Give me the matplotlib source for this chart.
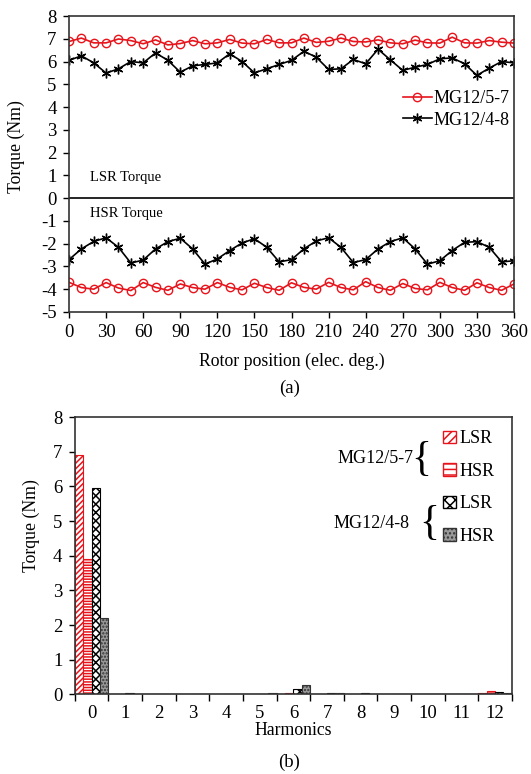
import numpy as np
import matplotlib
matplotlib.use('Agg')
import matplotlib.pyplot as plt
from matplotlib.patches import Patch

plt.rcParams.update({
    'font.family': ['Liberation Serif', 'DejaVu Serif'],
    'font.size': 12.5,
    'hatch.linewidth': 1.1,
    'axes.unicode_minus': False,
})

# (a) torque vs rotor position
angle = np.arange(0, 361, 10)
lsr_57 = [6.89, 7.04, 6.83, 6.83, 7.00, 6.93, 6.79, 6.96, 6.74, 6.80, 6.93, 6.79, 6.83,
          6.98, 6.82, 6.79, 6.98, 6.83, 6.83, 7.04, 6.85, 6.90, 7.04, 6.89, 6.87, 6.96,
          6.83, 6.79, 6.95, 6.83, 6.82, 7.08, 6.83, 6.82, 6.93, 6.86, 6.82]
lsr_48 = [6.06, 6.26, 5.95, 5.50, 5.69, 6.01, 5.95, 6.39, 6.06, 5.54, 5.82, 5.88, 5.95,
          6.35, 6.01, 5.51, 5.69, 5.88, 6.06, 6.46, 6.20, 5.66, 5.69, 6.10, 5.91, 6.55,
          6.08, 5.62, 5.76, 5.88, 6.13, 6.17, 5.91, 5.40, 5.72, 6.01, 5.95]
hsr_57 = [-3.70, -3.93, -4.00, -3.71, -3.95, -4.06, -3.71, -3.92, -4.05, -3.77, -3.93, -4.00, -3.71,
          -3.92, -4.03, -3.74, -3.93, -4.05, -3.72, -3.92, -4.00, -3.70, -3.93, -4.03, -3.67, -3.93,
          -4.05, -3.75, -3.97, -4.03, -3.70, -3.93, -4.05, -3.72, -3.93, -4.05, -3.77]
hsr_48 = [-2.70, -2.23, -1.90, -1.74, -2.16, -2.85, -2.72, -2.23, -1.91, -1.76, -2.23, -2.90, -2.67,
          -2.30, -1.97, -1.78, -2.16, -2.80, -2.70, -2.23, -1.88, -1.74, -2.16, -2.83, -2.70, -2.23,
          -1.91, -1.74, -2.23, -2.90, -2.75, -2.30, -1.94, -1.91, -2.16, -2.80, -2.75]

# (b) harmonic spectrum
harmonics = list(range(13))
bar_lsr_57 = [6.90, 0.02, 0.02, 0.02, 0.02, 0.02, 0.02, 0.02, 0.02, 0.02, 0.02, 0.02, 0.05]
bar_hsr_57 = [3.90, 0.02, 0.02, 0.02, 0.02, 0.02, 0.03, 0.02, 0.02, 0.02, 0.02, 0.02, 0.10]
bar_lsr_48 = [5.95, 0.03, 0.02, 0.01, 0.02, 0.01, 0.15, 0.04, 0.03, 0.01, 0.01, 0.01, 0.08]
bar_hsr_48 = [2.20, 0.02, 0.02, 0.01, 0.02, 0.04, 0.27, 0.04, 0.02, 0.01, 0.01, 0.01, 0.03]

red = '#e8141c'
fig = plt.figure(figsize=(5.31, 7.74), dpi=100)

# ---- top plot ----
ax1 = fig.add_axes([0.130, 0.597, 0.838, 0.382])
mk_star = (6, 2, 0)
ax1.plot(angle, lsr_57, color=red, marker='o', mfc='none', ms=6, lw=1.2, label='MG12/5-7')
ax1.plot(angle, lsr_48, color='black', marker=mk_star, ms=7, lw=1.2, label='MG12/4-8')
ax1.plot(angle, hsr_57, color=red, marker='o', mfc='none', ms=6, lw=1.2)
ax1.plot(angle, hsr_48, color='black', marker=mk_star, ms=7, lw=1.2)
ax1.axhline(0, color='black', lw=1.2)
ax1.set_xlim(0, 360)
ax1.set_ylim(-5, 8)
ax1.set_xticks(np.arange(0, 361, 30))
ax1.set_yticks(np.arange(-5, 9, 1))
ax1.tick_params(direction='out', length=4, width=1, pad=5, labelsize=13.5)
for s in ax1.spines.values():
    s.set_color('#333333')
    s.set_linewidth(1.2)
ax1.set_xlabel('Rotor position (elec. deg.)', fontsize=12.8, labelpad=8)
ax1.set_ylabel('Torque (Nm)', fontsize=12.8)
ax1.yaxis.set_label_coords(-0.1, 0.56)
ax1.text(0.047, 0.453, 'LSR Torque', transform=ax1.transAxes, fontsize=10.5, va='center')
ax1.text(0.047, 0.334, 'HSR Torque', transform=ax1.transAxes, fontsize=10.5, va='center')
ax1.legend(loc='upper right', bbox_to_anchor=(0.99, 0.75), frameon=False, fontsize=13,
           handlelength=1.6, handletextpad=0.1, labelspacing=0.25,
           borderaxespad=0, borderpad=0)
fig.text(0.545, 0.498, '(a)', ha='center', va='center', fontsize=13.5)

# ---- bottom plot ----
ax2 = fig.add_axes([0.141, 0.103, 0.823, 0.358])
xh = np.arange(len(harmonics))
w = 0.25
ax2.bar(xh - 1.5 * w, bar_lsr_57, w, color='white', edgecolor=red, hatch='//////', lw=0.8)
ax2.bar(xh - 0.5 * w, bar_hsr_57, w, color='white', edgecolor=red, hatch='------', lw=0.8)
ax2.bar(xh + 0.5 * w, bar_lsr_48, w, color='white', edgecolor='black', hatch='xxxx', lw=0.8)
ax2.bar(xh + 1.5 * w, bar_hsr_48, w, color='#9a9a9a', edgecolor='#333333', hatch='.....', lw=0.8)
ax2.set_xlim(-0.5, 12.5)
ax2.set_ylim(0, 8)
ax2.set_yticks(np.arange(0, 9, 1))
ax2.set_xticks(np.append(xh - 0.5, 12.5))
ax2.set_xticklabels([])
ax2.set_xticks(xh, minor=True)
ax2.set_xticklabels([str(h) for h in harmonics], minor=True)
ax2.tick_params(axis='x', which='minor', length=0, pad=8, labelsize=13.5)
ax2.tick_params(axis='x', which='major', direction='out', length=5, width=1)
ax2.tick_params(axis='y', direction='out', length=4, width=1, pad=5, labelsize=13.5)
for s in ax2.spines.values():
    s.set_color('#333333')
    s.set_linewidth(1.2)
ax2.set_xlabel('Harmonics', fontsize=12.8, labelpad=0)
ax2.set_ylabel('Torque (Nm)', fontsize=12.8)
ax2.yaxis.set_label_coords(-0.08, 0.61)

handles = [Patch(facecolor='white', edgecolor=red, hatch='////'),
           Patch(facecolor='white', edgecolor=red, hatch='---'),
           Patch(facecolor='white', edgecolor='black', hatch='xxx'),
           Patch(facecolor='#9a9a9a', edgecolor='#333333', hatch='....')]
ax2.legend(handles, ['LSR', 'HSR', 'LSR', 'HSR'], loc='upper right', bbox_to_anchor=(0.96, 0.952),
           frameon=False, fontsize=13, handlelength=0.7, handleheight=0.7,
           handletextpad=0.2, labelspacing=0.85, borderaxespad=0, borderpad=0)
ax2.text(0.775, 0.852, 'MG12/5-7', transform=ax2.transAxes, ha='right', va='center', fontsize=13)
ax2.text(0.793, 0.845, '{', transform=ax2.transAxes, ha='center', va='center', fontsize=30)
ax2.text(0.765, 0.617, 'MG12/4-8', transform=ax2.transAxes, ha='right', va='center', fontsize=13)
ax2.text(0.812, 0.615, '{', transform=ax2.transAxes, ha='center', va='center', fontsize=30)
fig.text(0.545, 0.015, '(b)', ha='center', va='center', fontsize=13.5)

fig.savefig('out.png', dpi=100)
